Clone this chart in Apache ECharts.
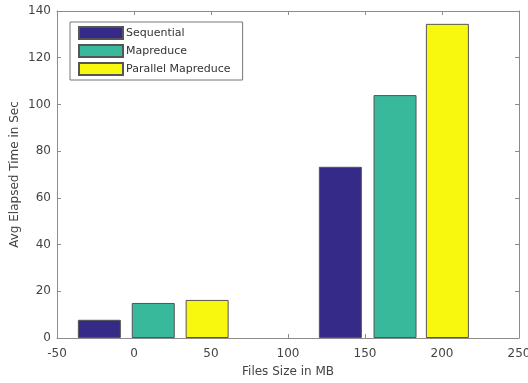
<!DOCTYPE html>
<html>
<head>
<meta charset="utf-8">
<script src="https://cdn.jsdelivr.net/npm/echarts@6/dist/echarts.min.js"></script>
<style>
  html, body { margin: 0; padding: 0; background: #fff; }
  #chart { width: 528px; height: 383px; }
</style>
</head>
<body>
<div id="chart"></div>
<script>
// bar positions (MB), one pair per series
const seqX = [-22.5, 134];
const mapX = [12.5, 169.5];
const parX = [47.5, 203.5];
// avg elapsed time (sec)
const seqY = [7.8, 73.3];
const mapY = [15, 104];
const parY = [16.3, 134.5];
const seriesNames = ["Sequential", "Mapreduce", "Parallel Mapreduce"];

const axisGrey = "#8c8c8c";
const textGrey = "#444";
const font = "'DejaVu Sans', Verdana, sans-serif";

const pairs = (xs, ys) => xs.map((x, i) => [x, ys[i]]);

const boxAxis = {
  axisLine: { show: true, onZero: false, lineStyle: { color: axisGrey, width: 1 } },
  axisTick: { show: true, inside: true, length: 4, lineStyle: { color: axisGrey } },
  splitLine: { show: false },
};

const chart = echarts.init(document.getElementById("chart"));
chart.setOption({
  animation: false,
  textStyle: { fontFamily: font },
  grid: { left: 57, right: 9, top: 11, bottom: 45, containLabel: false, outerBoundsMode: "none" },
  legend: {
    orient: "vertical",
    left: 70,
    top: 22,
    backgroundColor: "#fff",
    borderColor: "#777",
    borderWidth: 1,
    padding: [4, 12, 4, 8],
    itemGap: 4,
    itemWidth: 44,
    itemHeight: 12,
    icon: "rect",
    data: seriesNames,
    textStyle: { fontSize: 11, lineHeight: 12, color: "#333", padding: [0, 0, 0, -2] },
  },
  xAxis: [
    {
      ...boxAxis,
      type: "value",
      min: -50,
      max: 250,
      interval: 50,
      name: "Files Size in MB",
      nameLocation: "middle",
      nameGap: 28,
      nameMoveOverlap: false,
      nameTextStyle: { fontSize: 12, color: textGrey },
      axisLabel: { fontSize: 12, color: textGrey, margin: 10 },
    },
    {
      ...boxAxis,
      type: "value",
      position: "top",
      min: -50,
      max: 250,
      interval: 50,
      axisLabel: { show: false },
    },
  ],
  yAxis: [
    {
      ...boxAxis,
      type: "value",
      min: 0,
      max: 140,
      interval: 20,
      name: "Avg Elapsed Time in Sec",
      nameLocation: "middle",
      nameGap: 36,
      nameMoveOverlap: false,
      nameTextStyle: { fontSize: 12, color: textGrey },
      axisLabel: { fontSize: 12, color: textGrey, margin: 6 },
    },
    {
      ...boxAxis,
      type: "value",
      position: "right",
      min: 0,
      max: 140,
      interval: 20,
      axisLabel: { show: false },
    },
  ],
  series: [
    {
      name: seriesNames[0],
      type: "bar",
      data: pairs(seqX, seqY),
      barWidth: 43,
      barGap: "-100%",
      itemStyle: { color: "#352a87", borderColor: "#555", borderWidth: 1 },
    },
    {
      name: seriesNames[1],
      type: "bar",
      data: pairs(mapX, mapY),
      barWidth: 43,
      barGap: "-100%",
      itemStyle: { color: "#38b99b", borderColor: "#555", borderWidth: 1 },
    },
    {
      name: seriesNames[2],
      type: "bar",
      data: pairs(parX, parY),
      barWidth: 43,
      barGap: "-100%",
      itemStyle: { color: "#f8f80f", borderColor: "#555", borderWidth: 1 },
    },
  ],
});
</script>
</body>
</html>
